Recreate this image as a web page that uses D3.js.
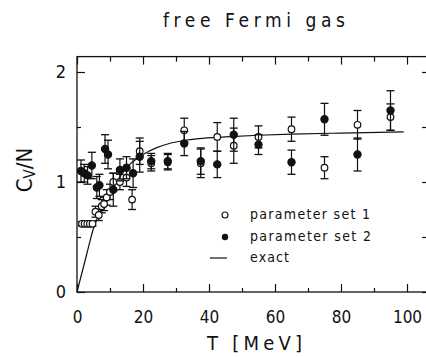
<!DOCTYPE html>
<html>
<head>
<meta charset="utf-8">
<script src="https://cdn.jsdelivr.net/npm/d3@7/dist/d3.min.js"></script>
<style>
  html, body { margin: 0; padding: 0; background: #fff; }
  svg { display: block; }
  text { fill: #111; font-family: "Liberation Sans Narrow", "DejaVu Sans Condensed", "Liberation Sans", sans-serif; }
</style>
</head>
<body>
<svg id="chart" width="426" height="357"></svg>
<script>
// Specific heat per nucleon of a free Fermi gas versus temperature

// exact curve
const exactT = [0, 3, 5, 6, 8, 10, 12, 14, 16, 18, 20, 24, 28, 32, 37, 45, 55, 65, 80, 99];
const exactC = [0, 0.35, 0.58, 0.66, 0.79, 0.90, 1.00, 1.09, 1.16, 1.21, 1.25, 1.31, 1.35, 1.375, 1.395, 1.41, 1.425, 1.435, 1.445, 1.455];

// parameter set 1 (open circles)
const set1T = [1.5, 2.3, 3.1, 3.9, 4.7, 5.6, 6.6, 7.5, 8.2, 9, 10, 11, 13, 15, 16.7, 19, 22.5, 27.5, 32.5, 37.5, 42.5, 47.5, 55, 65, 75, 85, 95];
const set1C = [0.62, 0.62, 0.62, 0.62, 0.62, 0.73, 0.70, 0.78, 0.80, 0.86, 0.91, 1.00, 1.00, 1.04, 0.84, 1.28, 1.17, 1.18, 1.47, 1.17, 1.41, 1.33, 1.41, 1.48, 1.13, 1.52, 1.59];
const set1E = [0.02, 0.02, 0.02, 0.02, 0.02, 0.05, 0.05, 0.06, 0.06, 0.07, 0.07, 0.08, 0.07, 0.08, 0.09, 0.12, 0.07, 0.07, 0.11, 0.13, 0.13, 0.16, 0.10, 0.11, 0.10, 0.13, 0.12];

// parameter set 2 (filled circles)
const set2T = [1.2, 2.2, 3.2, 4.5, 6, 6.8, 8.5, 9.4, 11, 13, 15, 17, 19, 22.5, 27.5, 32.5, 37.5, 42.5, 47.5, 55, 65, 75, 85, 95];
const set2C = [1.10, 1.08, 1.06, 1.15, 0.95, 0.97, 1.30, 1.25, 0.93, 1.11, 1.13, 1.08, 1.23, 1.19, 1.19, 1.35, 1.19, 1.16, 1.43, 1.34, 1.18, 1.57, 1.25, 1.65];
const set2E = [0.10, 0.08, 0.08, 0.12, 0.10, 0.10, 0.13, 0.13, 0.15, 0.10, 0.10, 0.13, 0.14, 0.07, 0.07, 0.11, 0.12, 0.12, 0.15, 0.09, 0.11, 0.145, 0.15, 0.18];

// ticks
const xMajor = [0, 20, 40, 60, 80, 100];
const xMinor = [10, 30, 50, 70, 90];
const yMajor = [0, 1, 2];
const yMinor = [0.5, 1.5];

const legendLabels = ["parameter set 1", "parameter set 2", "exact"];

const svg = d3.select("#chart");
const x = d3.scaleLinear().domain([0, 100]).range([77, 407]);
const y = d3.scaleLinear().domain([0, 2]).range([292, 72]);
const xMax = 107, yMax = 2.14;

const ink = "#111";

// frame
svg.append("rect")
  .attr("x", x(0)).attr("y", y(yMax))
  .attr("width", x(xMax) - x(0)).attr("height", y(0) - y(yMax))
  .attr("fill", "none").attr("stroke", ink).attr("stroke-width", 1.3);

function styleAxis(g) {
  g.select(".domain").remove();
  g.selectAll(".tick line").attr("stroke", ink).attr("stroke-width", 1.2);
}

// bottom
svg.append("g").attr("transform", `translate(0,${y(0)})`)
  .call(d3.axisBottom(x).tickValues(xMajor).tickSize(-8).tickPadding(19).tickFormat(d3.format("d")))
  .call(styleAxis)
  .call(g => g.selectAll("text").attr("font-size", 17).attr("fill", ink)
    .attr("font-family", "'Liberation Sans Narrow','DejaVu Sans Condensed','Liberation Sans',sans-serif"));
svg.append("g").attr("transform", `translate(0,${y(0)})`)
  .call(d3.axisBottom(x).tickValues(xMinor).tickSize(-4).tickFormat(""))
  .call(styleAxis);
// top
svg.append("g").attr("transform", `translate(0,${y(yMax)})`)
  .call(d3.axisTop(x).tickValues(xMajor).tickSize(-8).tickFormat(""))
  .call(styleAxis);
svg.append("g").attr("transform", `translate(0,${y(yMax)})`)
  .call(d3.axisTop(x).tickValues(xMinor).tickSize(-5).tickFormat(""))
  .call(styleAxis);
// left
svg.append("g").attr("transform", `translate(${x(0)},0)`)
  .call(d3.axisLeft(y).tickValues(yMajor).tickSize(-8).tickPadding(11).tickFormat(d3.format("d")))
  .call(styleAxis)
  .call(g => g.selectAll("text").attr("font-size", 18).attr("fill", ink)
    .attr("font-family", "'Liberation Sans Narrow','DejaVu Sans Condensed','Liberation Sans',sans-serif"));
svg.append("g").attr("transform", `translate(${x(0)},0)`)
  .call(d3.axisLeft(y).tickValues(yMinor).tickSize(-4).tickFormat(""))
  .call(styleAxis);
// right
svg.append("g").attr("transform", `translate(${x(xMax)},0)`)
  .call(d3.axisRight(y).tickValues(yMajor.concat(yMinor)).tickSize(-8).tickFormat(""))
  .call(styleAxis);

// exact curve
const line = d3.line().x(d => x(d[0])).y(d => y(d[1])).curve(d3.curveMonotoneX);
svg.append("path")
  .datum(exactT.map((t, i) => [t, exactC[i]]))
  .attr("d", line).attr("fill", "none").attr("stroke", ink).attr("stroke-width", 1.2);

function drawSet(T, C, E, filled) {
  const data = T.map((t, i) => ({ t, c: C[i], e: E[i] }));
  const g = svg.append("g");
  const cap = 4;
  data.forEach(d => {
    const x0 = x(d.t), y1 = y(d.c + d.e), y2 = y(d.c - d.e);
    g.append("line").attr("x1", x0).attr("x2", x0).attr("y1", y1).attr("y2", y2)
      .attr("stroke", ink).attr("stroke-width", 1.2);
    [y1, y2].forEach(yy => g.append("line")
      .attr("x1", x0 - cap).attr("x2", x0 + cap).attr("y1", yy).attr("y2", yy)
      .attr("stroke", ink).attr("stroke-width", 1.3));
  });
  g.selectAll("circle").data(data).join("circle")
    .attr("cx", d => x(d.t)).attr("cy", d => y(d.c))
    .attr("r", filled ? 3.6 : 3.3)
    .attr("fill", filled ? ink : "#fff")
    .attr("stroke", ink).attr("stroke-width", 1.2);
}
drawSet(set1T, set1C, set1E, false);
drawSet(set2T, set2C, set2E, true);

// legend
const lg = svg.append("g");
lg.append("circle").attr("cx", 225).attr("cy", 215).attr("r", 3).attr("fill", "#fff").attr("stroke", ink).attr("stroke-width", 1.1);
lg.append("circle").attr("cx", 225).attr("cy", 237).attr("r", 3.2).attr("fill", ink);
lg.append("line").attr("x1", 210).attr("x2", 227).attr("y1", 258).attr("y2", 258).attr("stroke", ink).attr("stroke-width", 1.2);
const legendY = [219, 241, 262];
const legendW = [120, 121, 39];
legendLabels.forEach((s, i) => lg.append("text")
  .attr("x", 250).attr("y", legendY[i]).attr("font-size", 14)
  .attr("font-family", "'DejaVu Sans', sans-serif").attr("font-weight", 300)
  .attr("textLength", legendW[i]).attr("lengthAdjust", "spacing").text(s));

// title
svg.append("text").attr("x", 163).attr("y", 27).attr("font-size", 19)
  .attr("font-family", "'DejaVu Sans', sans-serif")
  .attr("textLength", 182).attr("lengthAdjust", "spacing").text("free Fermi gas");

// axis titles
svg.append("text").attr("x", 207).attr("y", 350).attr("font-size", 20)
  .attr("font-family", "'DejaVu Sans', sans-serif")
  .attr("textLength", 95).attr("lengthAdjust", "spacing")
  .text("T  [MeV]");

const yt = svg.append("text").attr("transform", "translate(32,170) rotate(-90)")
  .attr("text-anchor", "middle").attr("font-size", 22)
  .attr("font-family", "'DejaVu Sans', sans-serif");
yt.append("tspan").text("C");
yt.append("tspan").attr("font-size", 15).attr("dy", 3).text("V");
yt.append("tspan").attr("dy", -3).text("/N");
</script>
</body>
</html>
